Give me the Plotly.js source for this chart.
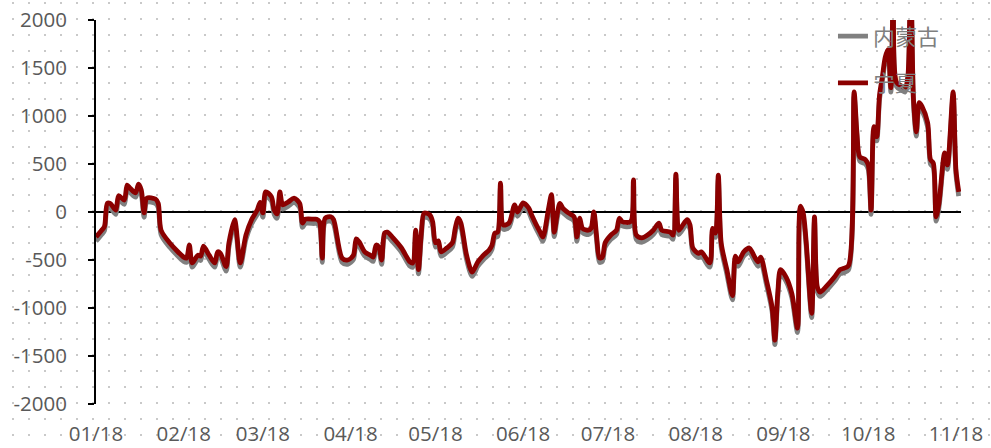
<!DOCTYPE html>
<html>
<head>
<meta charset="utf-8">
<script src="https://cdn.plot.ly/plotly-3.0.1.min.js"></script>
<style>
  html, body { margin: 0; padding: 0; background: #ffffff; }
  #chart {
    width: 991px; height: 448px;
    background-color: #ffffff;
    background-image: radial-gradient(circle at center, #c9c9c9 0.9px, rgba(255,255,255,0) 1.3px);
    background-size: 16px 16px;
    background-position: 5px -5px;
  }
</style>
</head>
<body>
<div id="chart"></div>
<script>
// Dates (2018)
const dates = [
  '2018-01-01','2018-01-03','2018-01-04','2018-01-05','2018-01-06','2018-01-08','2018-01-09','2018-01-11','2018-01-12','2018-01-13','2018-01-15','2018-01-16','2018-01-17','2018-01-18','2018-01-19','2018-01-22','2018-01-23','2018-01-24','2018-01-27',
  '2018-02-01','2018-02-02','2018-02-03','2018-02-04','2018-02-06','2018-02-07','2018-02-08','2018-02-10','2018-02-12','2018-02-13','2018-02-14','2018-02-16','2018-02-17','2018-02-19','2018-02-21','2018-02-23','2018-02-25','2018-02-27','2018-02-28',
  '2018-03-01','2018-03-02','2018-03-04','2018-03-05','2018-03-06','2018-03-07','2018-03-08','2018-03-10','2018-03-12','2018-03-14','2018-03-15','2018-03-16','2018-03-19','2018-03-20','2018-03-21','2018-03-22','2018-03-23','2018-03-25','2018-03-26','2018-03-29','2018-03-31',
  '2018-04-02','2018-04-03','2018-04-04','2018-04-06','2018-04-08','2018-04-09','2018-04-10','2018-04-11','2018-04-12','2018-04-13','2018-04-14','2018-04-16','2018-04-19','2018-04-22','2018-04-23','2018-04-24','2018-04-25','2018-04-26','2018-04-27','2018-04-29','2018-04-30',
  '2018-05-01','2018-05-02','2018-05-03','2018-05-05','2018-05-07','2018-05-08','2018-05-09','2018-05-10','2018-05-12','2018-05-14','2018-05-16','2018-05-18','2018-05-20','2018-05-21','2018-05-22','2018-05-23','2018-05-24','2018-05-25','2018-05-27','2018-05-29','2018-05-30','2018-05-31',
  '2018-06-01','2018-06-03','2018-06-04','2018-06-07','2018-06-08','2018-06-10','2018-06-11','2018-06-12','2018-06-13','2018-06-14','2018-06-15','2018-06-17','2018-06-19','2018-06-20','2018-06-21','2018-06-22','2018-06-24','2018-06-25','2018-06-26','2018-06-27','2018-06-28','2018-06-29','2018-06-30',
  '2018-07-02','2018-07-04','2018-07-05','2018-07-06','2018-07-09','2018-07-10','2018-07-11','2018-07-13','2018-07-15','2018-07-17','2018-07-19','2018-07-20','2018-07-23','2018-07-24','2018-07-25','2018-07-26','2018-07-27','2018-07-29','2018-07-30','2018-07-31',
  '2018-08-02','2018-08-03','2018-08-06','2018-08-07','2018-08-08','2018-08-09','2018-08-10','2018-08-12','2018-08-14','2018-08-15','2018-08-16','2018-08-18','2018-08-20','2018-08-21','2018-08-23','2018-08-24','2018-08-26','2018-08-28','2018-08-29','2018-08-30','2018-08-31',
  '2018-09-02','2018-09-04','2018-09-06','2018-09-07','2018-09-08','2018-09-09','2018-09-11','2018-09-12','2018-09-13','2018-09-14','2018-09-16','2018-09-19','2018-09-21','2018-09-22','2018-09-24','2018-09-26','2018-09-27','2018-09-28','2018-09-30',
  '2018-10-01','2018-10-02','2018-10-03','2018-10-04','2018-10-05','2018-10-06','2018-10-07','2018-10-08','2018-10-09','2018-10-10','2018-10-11','2018-10-13','2018-10-14','2018-10-15','2018-10-16','2018-10-17','2018-10-18','2018-10-19','2018-10-20','2018-10-22','2018-10-23','2018-10-24','2018-10-25','2018-10-26','2018-10-28','2018-10-29','2018-10-31',
  '2018-11-01','2018-11-02'
];

// 宁夏 (dark red)
const ningxia = [
  -260,-190,-150,90,90,20,170,125,280,250,200,290,230,-10,145,135,90,-190,-320,
  -470,-480,-345,-530,-450,-460,-355,-450,-530,-415,-430,-570,-320,-80,-530,-240,-80,20,100,
  -10,210,160,20,-20,210,75,105,145,90,-115,-75,-75,-75,-100,-480,-65,-50,-80,-480,-500,
  -450,-280,-310,-415,-450,-470,-345,-365,-500,-220,-210,-270,-375,-520,-530,-190,-600,-220,-10,-30,-100,
  -320,-300,-415,-375,-320,-170,-65,-115,-450,-625,-520,-450,-395,-345,-220,-210,300,-135,-115,75,0,50,
  95,40,-30,-210,-260,40,180,-210,-30,90,40,-10,-50,-260,-65,-170,-190,-170,0,-260,-480,-470,-320,
  -240,-190,-65,-100,-100,335,-240,-270,-240,-190,-115,-190,-210,-240,395,-190,-155,-80,-135,-375,
  -430,-415,-530,-170,-220,385,-320,-600,-870,-460,-520,-415,-375,-420,-520,-470,-710,-990,-1335,-850,-600,
  -680,-850,-1210,60,-10,-290,-1055,-50,-780,-835,-780,-680,-600,-590,-560,1250,825,575,545,
  490,20,890,785,1220,1410,1610,1690,1295,2600,1350,1310,1295,1410,2500,1170,835,1140,1100,930,545,510,-50,90,615,490,1250,
  440,210
];

// 内蒙古 (grey)
const neimenggu = [
  -305,-235,-195,45,45,-25,125,80,235,205,155,245,185,-55,100,90,45,-235,-365,
  -515,-525,-390,-575,-495,-505,-400,-495,-575,-460,-475,-615,-365,-125,-575,-285,-125,-25,55,
  -55,165,115,-25,-65,165,30,60,100,45,-160,-120,-120,-120,-145,-525,-110,-95,-125,-525,-545,
  -495,-325,-355,-460,-495,-515,-390,-410,-545,-265,-255,-315,-420,-565,-575,-235,-645,-265,-55,-75,-145,
  -365,-345,-460,-420,-365,-215,-110,-160,-495,-670,-565,-495,-440,-390,-265,-255,255,-180,-160,30,-45,5,
  50,-5,-75,-255,-305,-5,135,-255,-75,45,-5,-55,-95,-305,-110,-215,-235,-215,-45,-305,-525,-515,-365,
  -285,-235,-110,-145,-145,290,-285,-315,-285,-235,-160,-235,-255,-285,350,-235,-200,-125,-180,-420,
  -475,-460,-575,-215,-265,340,-365,-645,-915,-505,-565,-460,-420,-465,-565,-515,-755,-1035,-1380,-895,-645,
  -725,-895,-1255,15,-55,-335,-1100,-95,-825,-880,-825,-725,-645,-635,-605,1205,780,530,500,
  445,-25,845,740,1175,1365,1565,1645,1250,2555,1305,1265,1250,1365,2455,1125,790,1095,1055,885,500,465,-95,45,570,445,1205,
  395,165
];

const tickDates = ['2018-01-01','2018-02-01','2018-03-01','2018-04-01','2018-05-01','2018-06-01','2018-07-01','2018-08-01','2018-09-01','2018-10-01','2018-11-01'];
const tickLabels = ['01/18','02/18','03/18','04/18','05/18','06/18','07/18','08/18','09/18','10/18','11/18'];
const yTicks = [-2000,-1500,-1000,-500,0,500,1000,1500,2000];
const yTickLabels = ['-2000','-1500','-1000','-500','0','500','1000','1500','2000'];

const xRange = ['2018-01-01', '2018-11-02 19:00'];
const tickFont = {family: '"Open Sans", "Liberation Sans", sans-serif', size: 20.5, color: '#595959'};

const traces = [
  {
    x: dates, y: neimenggu, name: '内蒙古', type: 'scatter', mode: 'lines',
    line: {color: '#808080', width: 4.8, shape: 'spline', smoothing: 0.8},
    legendgroup: 'a'
  },
  {
    x: dates, y: ningxia, name: '宁夏', type: 'scatter', mode: 'lines',
    line: {color: '#8b0000', width: 4.8, shape: 'spline', smoothing: 0.8},
    legendgroup: 'b'
  }
];

const layout = {
  width: 991, height: 448,
  margin: {l: 96, r: 30, t: 20, b: 44},
  paper_bgcolor: 'rgba(0,0,0,0)',
  plot_bgcolor: 'rgba(0,0,0,0)',
  showlegend: true,
  legend: {
    x: 0.852, y: 1.012, xanchor: 'left', yanchor: 'top',
    bgcolor: 'rgba(0,0,0,0)',
    font: {family: '"Noto Sans CJK SC", sans-serif', size: 22, color: '#7f7f7f'},
    tracegroupgap: 15,
    traceorder: 'grouped'
  },
  xaxis: {
    type: 'date', range: xRange,
    tickmode: 'array', tickvals: tickDates, ticktext: tickLabels,
    showgrid: false, zeroline: false, showline: false,
    ticks: '', tickfont: tickFont, ticklabelstandoff: 15,
    fixedrange: true
  },
  xaxis2: {
    type: 'date', range: xRange, overlaying: 'x', anchor: 'free', position: 0.5, side: 'bottom',
    tickmode: 'array', tickvals: tickDates, ticktext: tickLabels,
    showticklabels: false, showgrid: false, zeroline: false, showline: false,
    ticks: 'outside', ticklen: 6, tickwidth: 2, tickcolor: '#000000'
  },
  yaxis: {
    range: [-2000, 2000], tickmode: 'array', tickvals: yTicks, ticktext: yTickLabels,
    showgrid: false, zeroline: true, zerolinecolor: '#000000', zerolinewidth: 2,
    showline: true, linecolor: '#000000', linewidth: 2,
    ticks: 'outside', ticklen: 6, tickwidth: 2, tickcolor: '#000000',
    tickfont: tickFont, ticklabelstandoff: 17,
    fixedrange: true
  }
};

Plotly.newPlot('chart', traces, layout, {staticPlot: true, displayModeBar: false});
</script>
</body>
</html>
